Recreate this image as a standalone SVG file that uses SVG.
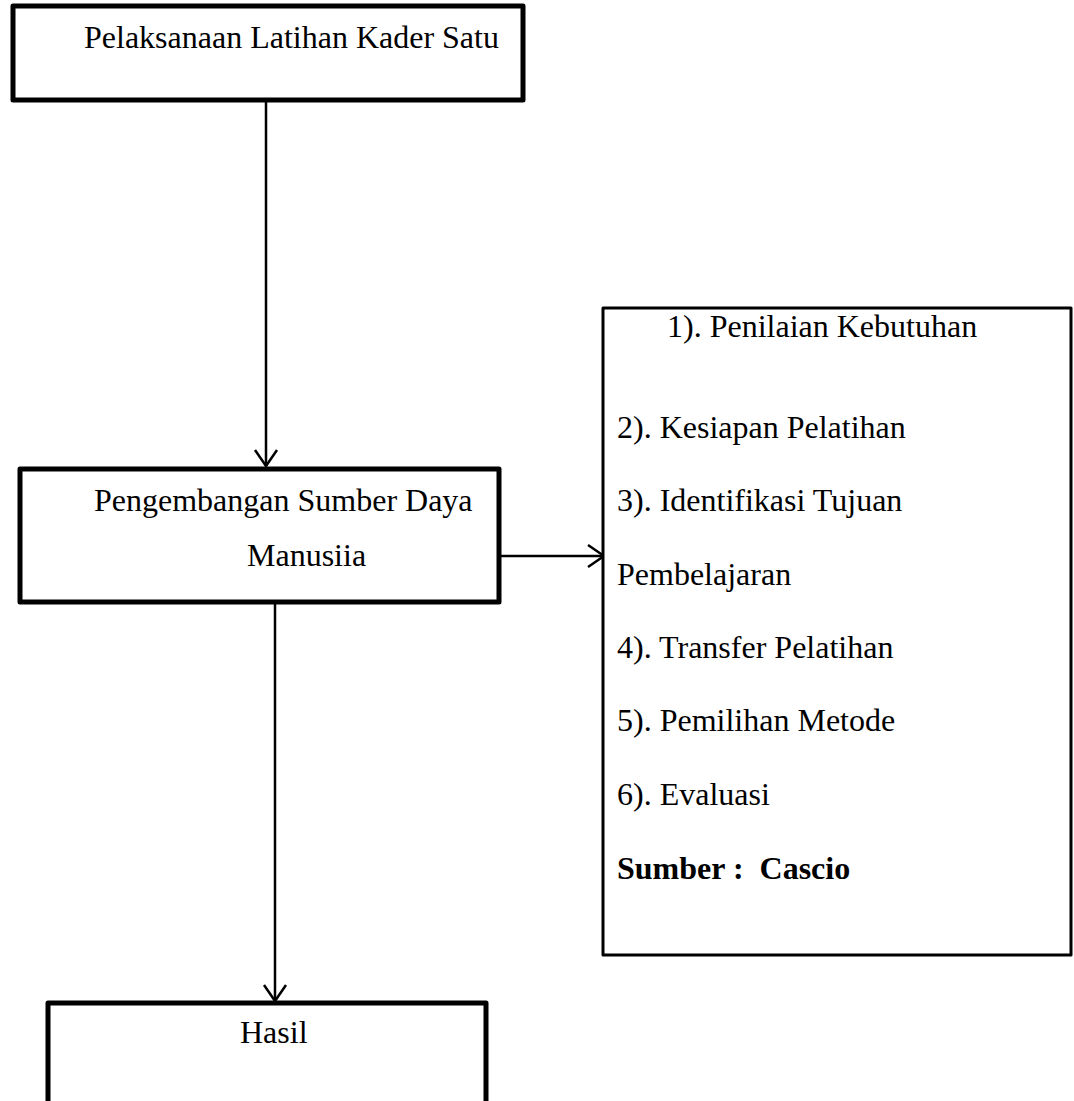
<svg xmlns="http://www.w3.org/2000/svg" width="1074" height="1101" viewBox="0 0 1074 1101">
<style>
.box{fill:#fff;stroke:#000;stroke-linejoin:round}
.thick{stroke-width:5}
.thin{stroke-width:3}
text{font-family:"Liberation Serif","Times New Roman",serif;font-size:32px;fill:#000}
.b{font-weight:bold}
.conn{stroke:#000;stroke-width:2.5;fill:none;marker-end:url(#arr)}
</style>
<defs>
<marker id="arr" markerUnits="userSpaceOnUse" markerWidth="40" markerHeight="40" viewBox="-20 -20 40 40" refX="0" refY="0" orient="auto">
<path d="M-16,-11 L0,0 L-16,11" fill="none" stroke="#000" stroke-width="2.5"/>
</marker>
</defs>
<rect width="1074" height="1101" fill="#fff"/>
<g id="connectors">
<line class="conn" x1="266" y1="100" x2="266" y2="466"/>
<line class="conn" x1="499" y1="556" x2="604" y2="556"/>
<line class="conn" x1="275" y1="602" x2="275" y2="1001"/>
</g>
<g id="node-pelaksanaan">
<rect class="box thick" x="13" y="6" width="510" height="94"/>
<text x="84" y="48">Pelaksanaan Latihan Kader Satu</text>
</g>
<g id="node-pengembangan">
<rect class="box thick" x="20" y="469" width="479" height="133"/>
<text x="94" y="511">Pengembangan Sumber Daya</text>
<text x="247" y="566">Manusiia</text>
</g>
<g id="node-list">
<rect class="box thin" x="603" y="308" width="468" height="647"/>
<text x="667" y="337">1). Penilaian Kebutuhan</text>
<text x="617" y="438">2). Kesiapan Pelatihan</text>
<text x="617" y="511">3). Identifikasi Tujuan</text>
<text x="617" y="585">Pembelajaran</text>
<text x="617" y="658">4). Transfer Pelatihan</text>
<text x="617" y="731">5). Pemilihan Metode</text>
<text x="617" y="805">6). Evaluasi</text>
<text class="b" x="617" y="879" xml:space="preserve">Sumber :  Cascio</text>
</g>
<g id="node-hasil">
<rect class="box thick" x="48" y="1003" width="438" height="130"/>
<text x="240" y="1043">Hasil</text>
</g>
</svg>
